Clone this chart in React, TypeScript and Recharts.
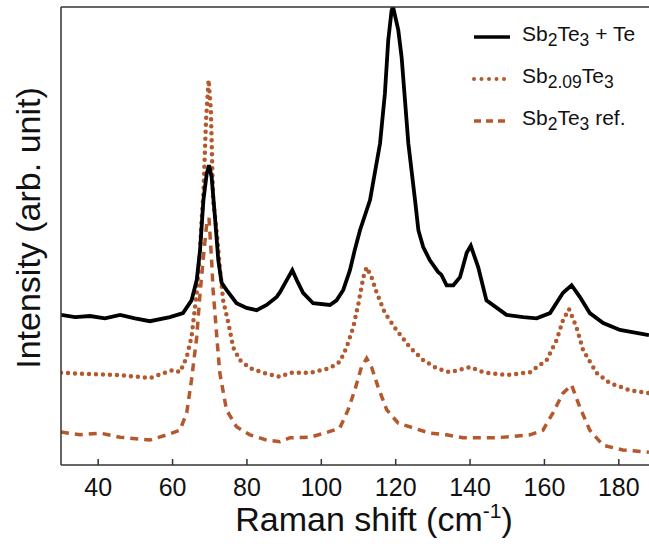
import React from 'react';
import { LineChart, Line, XAxis, YAxis, Legend } from 'recharts';

// Raman spectra, [shift (cm-1), intensity (arb., offset)]
const sbTeTe: [number, number][] = [
    [30, 2.59], [33.8, 2.55], [37.8, 2.57], [41.8, 2.53], [45.9, 2.59], [49.9, 2.53], [53.9, 2.48],
    [59.3, 2.55], [62.8, 2.62], [65.1, 2.84], [66.5, 3.19], [67.4, 3.71], [68.3, 4.57], [69.2, 5.03],
    [69.8, 5.17], [70.5, 4.97], [71.4, 4.28], [72.3, 3.53], [73.2, 3.14], [74.5, 3.02], [77.2, 2.79],
    [79.9, 2.71], [82.6, 2.67], [85.3, 2.76], [88.0, 2.9], [88.9, 2.98], [90.7, 3.19], [92.2, 3.36],
    [93.4, 3.19], [95.1, 2.97], [97.8, 2.79], [102.3, 2.76], [104.1, 2.84], [105.9, 3.02], [107.7, 3.36],
    [109, 3.71], [110.4, 4.05], [113.1, 4.57], [115.8, 5.55], [117.1, 6.41], [118, 7.33], [118.9, 7.84],
    [119.3, 7.9], [120.7, 7.5], [121.6, 7.03], [122.5, 6.29], [123.4, 5.55], [125.2, 4.57], [126.1, 4.05],
    [127.4, 3.76], [129.2, 3.53], [131.4, 3.33], [132.3, 3.28], [133.7, 3.1], [135.5, 3.1], [137.3, 3.24],
    [139.1, 3.66], [140.2, 3.78], [142.2, 3.41], [144.4, 2.84], [149.8, 2.59], [154.3, 2.55], [157.9, 2.53],
    [161.5, 2.62], [165, 2.97], [167.3, 3.1], [169.5, 2.9], [172.2, 2.62], [175.8, 2.45], [180.3, 2.33],
    [188.1, 2.24],
];

const sb209Te: [number, number][] = [
    [30, 1.59], [37.8, 1.57], [45.9, 1.55], [53.9, 1.5], [60.2, 1.64], [62, 1.6], [63.8, 1.86],
    [65.1, 2.21], [66.5, 2.97], [67.4, 3.71], [67.8, 4.22], [68.3, 4.69], [69, 5.95], [69.7, 6.64],
    [70.3, 6.12], [70.9, 4.57], [71.9, 4.0], [72.7, 3.41], [73.6, 2.84], [75, 2.45], [76.3, 2.03],
    [78.1, 1.81], [80.8, 1.67], [84.4, 1.59], [88.9, 1.52], [91.6, 1.59], [97, 1.59], [102.3, 1.67],
    [105, 1.78], [106.8, 2.03], [108.6, 2.38], [110, 2.79], [111.3, 3.24], [112.2, 3.41], [113.5, 3.24],
    [114.9, 2.97], [117.1, 2.62], [120.2, 2.33], [123.8, 2.03], [127.4, 1.81], [131, 1.67], [134.6, 1.6],
    [140, 1.69], [143.5, 1.6], [149.8, 1.55], [156.1, 1.6], [160.6, 1.81], [163.3, 2.16], [165, 2.5],
    [166.6, 2.69], [168.6, 2.38], [170.4, 1.98], [174, 1.59], [177.6, 1.41], [183, 1.29], [188.1, 1.24],
];

const sbTeRef: [number, number][] = [
    [30, 0.57], [35.1, 0.52], [40.5, 0.55], [45.9, 0.48], [53.9, 0.43], [58.4, 0.52], [62, 0.6],
    [63.8, 0.9], [65.1, 1.47], [66.5, 2.21], [67.4, 2.97], [68.3, 3.59], [69.2, 4.17], [69.8, 4.26],
    [70.5, 3.53], [70.9, 3.02], [71.9, 2.21], [72.7, 1.59], [74.5, 0.95], [77.2, 0.66], [80.8, 0.52],
    [85.3, 0.43], [88.9, 0.4], [91.6, 0.47], [97, 0.48], [101.9, 0.57], [105, 0.64], [107.2, 0.95],
    [109, 1.29], [110.8, 1.69], [112.2, 1.84], [113.5, 1.69], [115.3, 1.34], [117.6, 0.95], [120.7, 0.72],
    [124.7, 0.64], [129.2, 0.55], [133.7, 0.52], [138.1, 0.47], [147.1, 0.47], [156.1, 0.52], [159.6, 0.6],
    [162.3, 0.9], [165, 1.24], [167.3, 1.38], [169.5, 1.0], [172.2, 0.6], [175.8, 0.34], [181.1, 0.26],
    [188.1, 0.22],
];

const xTicks = [40, 60, 80, 100, 120, 140, 160, 180];
const yTicks = [1, 2, 3, 4, 5, 6, 7];

const FONT = '"Liberation Sans", Arial, sans-serif';
const BROWN = '#b4582d';

const toPoints = (arr: [number, number][]) => arr.map(([x, y]) => ({ x, y }));

const legendItems = [
    { key: 'a', color: '#000', width: 3.5, dash: undefined, cap: 'butt', label: <>Sb<sub>2</sub>Te<sub>3</sub> + Te</> },
    { key: 'b', color: BROWN, width: 4, dash: '0 7.5', cap: 'round', label: <>Sb<sub>2.09</sub>Te<sub>3</sub></> },
    { key: 'c', color: BROWN, width: 3.5, dash: '7 5', cap: 'butt', label: <>Sb<sub>2</sub>Te<sub>3</sub> ref.</> },
];

const renderLegend = () => (
    <div style={{ fontFamily: FONT, fontSize: 21, color: '#111' }}>
        {legendItems.map((item) => (
            <div key={item.key} style={{ display: 'flex', alignItems: 'center', height: 42 }}>
                <svg width={40} height={10}>
                    <line x1={2} y1={5} x2={38} y2={5} stroke={item.color} strokeWidth={item.width}
                        strokeDasharray={item.dash} strokeLinecap={item.cap as any} />
                </svg>
                <span style={{ marginLeft: 10, whiteSpace: 'nowrap' }}>{item.label}</span>
            </div>
        ))}
    </div>
);

const renderXLabel = () => (
    <text x={374} y={531} textAnchor="middle" fontFamily={FONT} fontSize={34} fill="#111">
        Raman shift (cm<tspan dy={-13} fontSize={21}>-1</tspan><tspan dy={13}>)</tspan>
    </text>
);

const renderYLabel = () => (
    <text x={40} y={228} textAnchor="middle" fontFamily={FONT} fontSize={34} fill="#111"
        transform="rotate(-90 40 228)">
        Intensity (arb. unit)
    </text>
);

const App: React.FC = () => {
    return (
        <div style={{ position: 'absolute', left: 0, top: 0, width: 649, height: 544, overflow: 'hidden', background: '#fff' }}>
            <LineChart width={670} height={544} margin={{ top: 6, right: 14, left: 60, bottom: 0 }}>
                <XAxis dataKey="x" type="number" domain={[30, 190]} ticks={xTicks} allowDataOverflow
                    height={79} tickSize={-6} tickMargin={19} stroke="#333" strokeWidth={1.5}
                    tick={{ fill: '#111', fontSize: 25, fontFamily: FONT }} label={renderXLabel} />
                <XAxis xAxisId="top" orientation="top" dataKey="x" type="number" domain={[30, 190]}
                    ticks={xTicks} height={1} tickSize={-6} tick={false} stroke="#333" strokeWidth={1.5} />
                <YAxis type="number" domain={[0, 7.9]} ticks={yTicks} allowDataOverflow width={1}
                    tickSize={-5} tick={false} stroke="#333" strokeWidth={1.5} label={renderYLabel} />
                <Legend content={renderLegend} layout="horizontal" verticalAlign="middle" align="center"
                    wrapperStyle={{ top: 16, left: 472, width: 180 }} />
                <Line data={toPoints(sbTeRef)} dataKey="y" name="Sb2Te3 ref." stroke={BROWN} strokeWidth={3.5}
                    strokeDasharray="8 6" dot={false} type="linear" isAnimationActive={false} />
                <Line data={toPoints(sb209Te)} dataKey="y" name="Sb2.09Te3" stroke={BROWN} strokeWidth={4.5}
                    strokeDasharray="0 7" strokeLinecap="round" dot={false} type="linear" isAnimationActive={false} />
                <Line data={toPoints(sbTeTe)} dataKey="y" name="Sb2Te3 + Te" stroke="#000" strokeWidth={3.8}
                    dot={false} type="linear" isAnimationActive={false} />
            </LineChart>
        </div>
    );
};

export default App;
